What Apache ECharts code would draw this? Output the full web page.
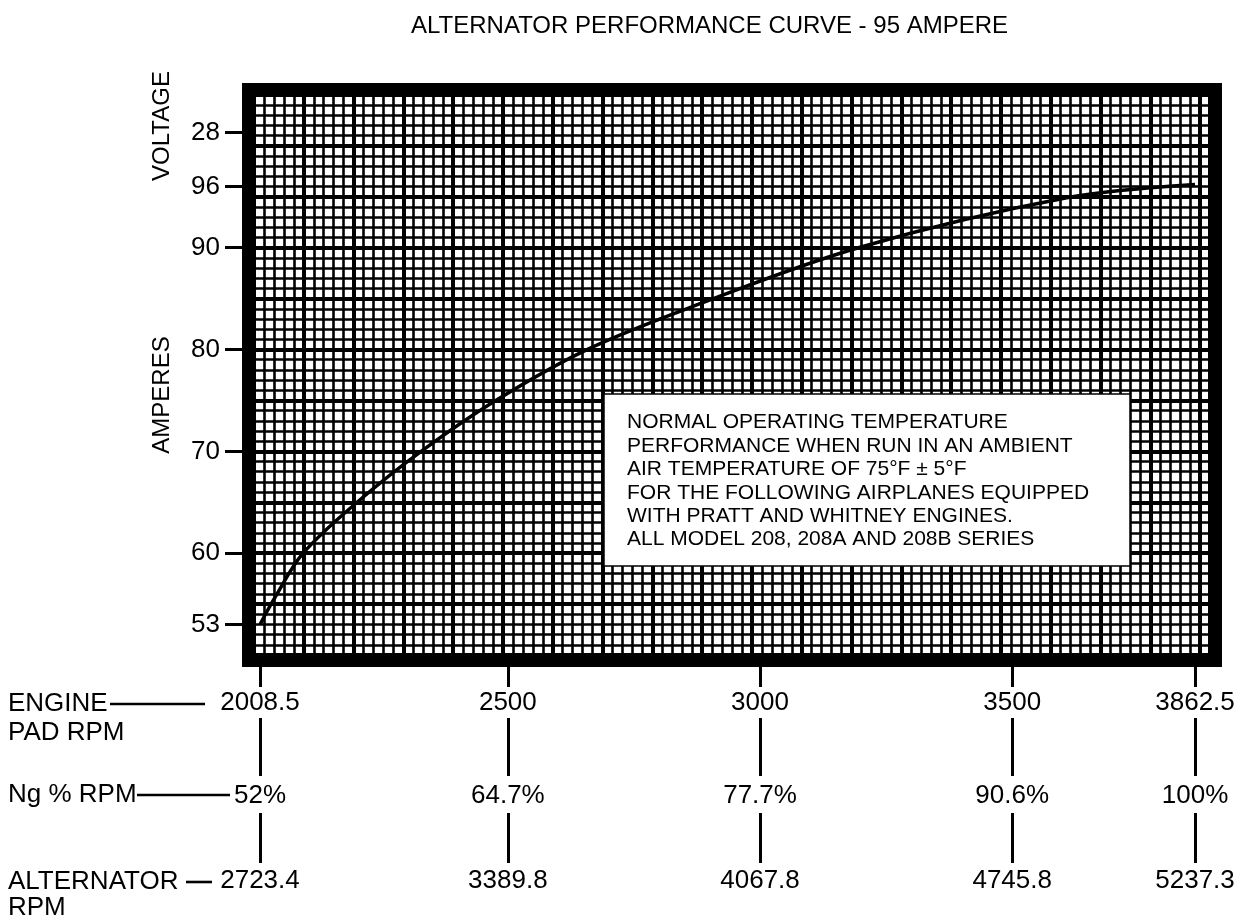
<!DOCTYPE html>
<html><head><meta charset="utf-8">
<script src="https://cdn.jsdelivr.net/npm/echarts@6/dist/echarts.min.js"></script>
<style>html,body{margin:0;padding:0;background:#fff}#c{width:1255px;height:920px}</style>
</head><body><div id="c"></div>
<script>
const chartTitle = 'ALTERNATOR PERFORMANCE CURVE - 95 AMPERE';
// performance curve: engine pad rpm vs amperes
const curveRpm  = [2008.5, 2040, 2094, 2201, 2328, 2476, 2657, 2881, 3195, 3608, 3862.5];
const curveAmps = [53, 55.8, 60, 65, 70, 75, 80, 84.5, 90, 94.9, 96.2];
// x tick rows
const rpmTicks     = [2008.5, 2500, 3000, 3500, 3862.5];
const engineLabels = ['2008.5', '2500', '3000', '3500', '3862.5'];
const ngLabels     = ['52%', '64.7%', '77.7%', '90.6%', '100%'];
const altLabels    = ['2723.4', '3389.8', '4067.8', '4745.8', '5237.3'];
// y ticks (amperes) plus the voltage mark
const ampTicks  = [53, 60, 70, 80, 90, 96];
const voltTicks = [101.3];
const voltLabels = ['28'];
const rowNames = ['ENGINE', 'PAD RPM', 'Ng % RPM', 'ALTERNATOR', 'RPM'];
const noteLines = [
  'NORMAL OPERATING TEMPERATURE',
  'PERFORMANCE WHEN RUN IN AN AMBIENT',
  'AIR TEMPERATURE OF 75°F \u00B1 5°F',
  'FOR THE FOLLOWING AIRPLANES EQUIPPED',
  'WITH PRATT AND WHITNEY ENGINES.',
  'ALL MODEL 208, 208A AND 208B SERIES'
];

const FONT = 'Liberation Sans, Arial, Helvetica, sans-serif';
// plot (paper) area geometry
const G = {left: 254, top: 95, width: 956, height: 560};
const FRAME = 6; // half border width
const ampMin = 50, ampMax = 105;
const pxPerAmp = G.height / (ampMax - ampMin);
const pxPerRpm = 0.50432;
const rpmMin0 = 2008.5 - 6 / pxPerRpm;
const rpmMax0 = rpmMin0 + G.width / pxPerRpm;
const rpmMin1 = rpmMin0 - FRAME / pxPerRpm, rpmMax1 = rpmMax0 + FRAME / pxPerRpm;
const ampMin1 = ampMin - FRAME / pxPerAmp, ampMax1 = ampMax + FRAME / pxPerAmp;

const allY = ampTicks.concat(voltTicks);
function yLabel(v) {
  const i = voltTicks.indexOf(v);
  if (i >= 0) return voltLabels[i];
  return String(v);
}
function rowLabel(arr) {
  return function (v) {
    let best = 0;
    rpmTicks.forEach((t, i) => { if (Math.abs(t - v) < Math.abs(rpmTicks[best] - v)) best = i; });
    return arr[best];
  };
}
const tickStyle = {color: '#000', width: 3};
const lblStyle = {color: '#000', fontFamily: FONT, fontSize: 26};

function rowAxis(offset, tickLen, margin, labels) {
  return {
    type: 'value', gridIndex: 1, position: 'bottom', offset: offset,
    min: rpmMin1, max: rpmMax1,
    axisLine: {show: false}, splitLine: {show: false},
    axisTick: {show: true, customValues: rpmTicks, length: tickLen, lineStyle: tickStyle},
    axisLabel: Object.assign({show: true, customValues: rpmTicks, margin: margin, formatter: rowLabel(labels)}, lblStyle)
  };
}

const chart = echarts.init(document.getElementById('c'), null, {renderer: 'canvas'});
const option = {
  backgroundColor: '#fff',
  animation: false,
  title: {
    text: chartTitle, left: 406, top: 9,
    textStyle: {fontFamily: FONT, fontSize: 24, fontWeight: 'normal', color: '#000'}
  },
  grid: [
    {left: G.left, top: G.top, width: G.width, height: G.height, show: false},
    {left: G.left - FRAME, top: G.top - FRAME, width: G.width + 2 * FRAME, height: G.height + 2 * FRAME,
     show: true, borderColor: '#000', borderWidth: 2 * FRAME, backgroundColor: 'transparent'}
  ],
  xAxis: [
    { // paper grid
      type: 'value', gridIndex: 0, min: 0, max: 96, interval: 5,
      axisLine: {show: false}, axisTick: {show: false}, axisLabel: {show: false},
      splitLine: {show: true, lineStyle: {color: '#000', width: 4}},
      minorTick: {show: false, splitNumber: 5},
      minorSplitLine: {show: true, lineStyle: {color: '#000', width: 2.6}}
    },
    { // data axis
      type: 'value', gridIndex: 0, min: rpmMin0, max: rpmMax0, show: false
    },
    rowAxis(0, 26, 29, engineLabels),
    rowAxis(57, 58, 65, ngLabels),
    rowAxis(152, 50, 55, altLabels)
  ],
  yAxis: [
    {
      type: 'value', gridIndex: 0, min: ampMin, max: ampMax, interval: 5,
      axisLine: {show: false}, axisTick: {show: false}, axisLabel: {show: false},
      splitLine: {show: true, lineStyle: {color: '#000', width: 4}},
      minorTick: {show: false, splitNumber: 5},
      minorSplitLine: {show: true, lineStyle: {color: '#000', width: 2.6}}
    },
    {
      type: 'value', gridIndex: 1, min: ampMin1, max: ampMax1,
      axisLine: {show: false}, splitLine: {show: false},
      axisTick: {show: true, customValues: allY, length: 23, lineStyle: tickStyle},
      axisLabel: Object.assign({show: true, customValues: allY, margin: 28, formatter: yLabel}, lblStyle)
    }
  ],
  series: [{
    type: 'line', xAxisIndex: 1, yAxisIndex: 0, smooth: 0.35, symbol: 'none', z: 5,
    lineStyle: {color: '#000', width: 3.5},
    data: curveRpm.map((r, i) => [r, curveAmps[i]])
  }],
  graphic: [
    {type: 'text', z: 10, x: 162, y: 126, rotation: Math.PI / 2,
     style: {text: 'VOLTAGE', font: '24px ' + FONT, fill: '#000', textAlign: 'center', textVerticalAlign: 'middle'}},
    {type: 'text', z: 10, x: 162, y: 395, rotation: Math.PI / 2,
     style: {text: 'AMPERES', font: '24px ' + FONT, fill: '#000', textAlign: 'center', textVerticalAlign: 'middle'}},
    {type: 'text', z: 10, x: 8, y: 704, style: {text: rowNames[0], font: '26px ' + FONT, fill: '#000', textVerticalAlign: 'middle'}},
    {type: 'text', z: 10, x: 8, y: 733, style: {text: rowNames[1], font: '26px ' + FONT, fill: '#000', textVerticalAlign: 'middle'}},
    {type: 'text', z: 10, x: 8, y: 795, style: {text: rowNames[2], font: '26px ' + FONT, fill: '#000', textVerticalAlign: 'middle'}},
    {type: 'text', z: 10, x: 8, y: 882, style: {text: rowNames[3], font: '26px ' + FONT, fill: '#000', textVerticalAlign: 'middle'}},
    {type: 'text', z: 10, x: 8, y: 908, style: {text: rowNames[4], font: '26px ' + FONT, fill: '#000', textVerticalAlign: 'middle'}},
    {type: 'line', z: 10, shape: {x1: 110, y1: 704, x2: 205, y2: 704}, style: {stroke: '#000', lineWidth: 2.6}},
    {type: 'line', z: 10, shape: {x1: 137, y1: 795, x2: 230, y2: 795}, style: {stroke: '#000', lineWidth: 2.6}},
    {type: 'line', z: 10, shape: {x1: 186, y1: 882, x2: 212, y2: 882}, style: {stroke: '#000', lineWidth: 2.6}},
    {type: 'group', z: 10, children: [
      {type: 'rect', z: 10, shape: {x: 604, y: 394, width: 526, height: 172}, style: {fill: '#fff', stroke: '#000', lineWidth: 1.5}},
      {type: 'text', z: 11, x: 627, y: 411,
       style: {text: noteLines.join('\n'), font: '21px ' + FONT, lineHeight: 23.4, fill: '#000'}}
    ]}
  ]
};
chart.setOption(option);
</script></body></html>
